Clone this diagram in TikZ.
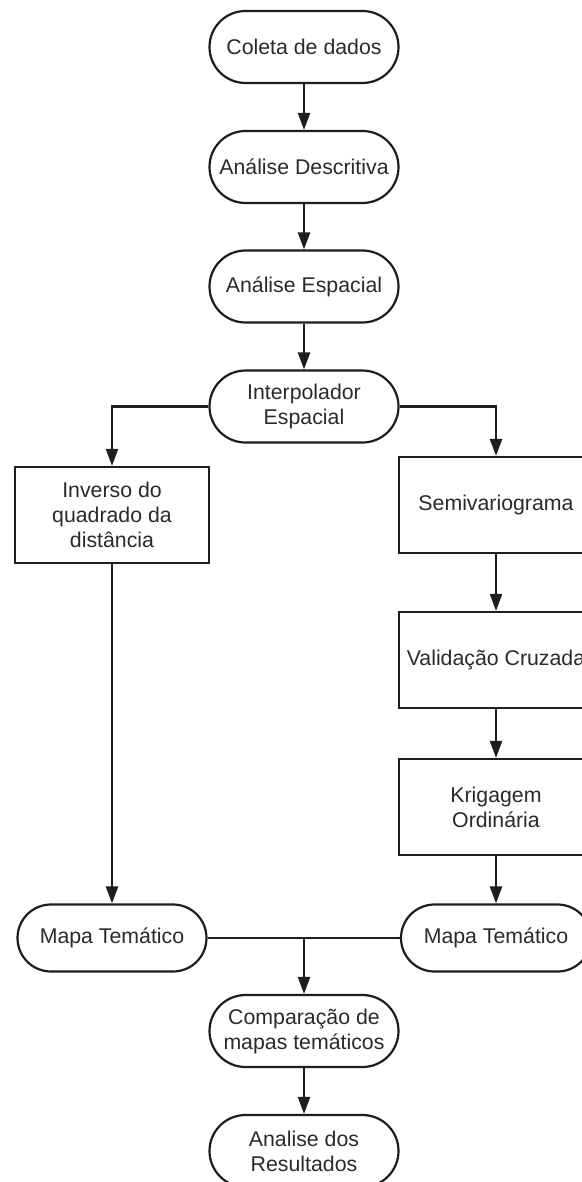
\documentclass[tikz,border=0pt]{standalone}
\usepackage{fontspec}
\setmainfont{Liberation Sans}
\usetikzlibrary{shapes.misc,arrows.meta,calc}
\definecolor{ink}{HTML}{1E1E1E}
\definecolor{txt}{HTML}{2A2A2A}
\tikzset{
  pill/.style={rounded rectangle, draw=ink, line width=2.2pt, fill=white, text=txt,
    minimum width=193pt, minimum height=72pt, inner sep=2pt, align=center,
    font=\fontsize{21.3pt}{25pt}\selectfont},
  procbox/.style={rectangle, draw=ink, line width=2.2pt, fill=white, text=txt,
    minimum width=194pt, minimum height=96pt, inner sep=2pt, align=center,
    font=\fontsize{21.3pt}{25pt}\selectfont},
  conn/.style={draw=ink, line width=2.2pt},
  arr/.style={conn, -{Triangle[length=17pt,width=12pt]}}
}
\begin{document}
\begin{tikzpicture}[x=1pt,y=1pt]
\useasboundingbox (0,0) rectangle (581,-1182);
\fill[white] (0,0) rectangle (581,-1182);
\node[pill] (coleta) at (304,-47) {Coleta de dados};
\node[pill] (desc) at (304,-167) {Análise Descritiva};
\node[pill] (esp) at (304,-286.5) {Análise Espacial};
\node[pill] (interp) at (304,-406.5) {Interpolador\\Espacial};
\node[procbox] (inverso) at (112,-515) {Inverso do\\quadrado da\\distância};
\node[procbox] (semi) at (496,-505) {Semivariograma};
\node[procbox] (valid) at (496,-660) {Validação Cruzada};
\node[procbox] (krig) at (496,-807) {Krigagem\\Ordinária};
\node[pill, minimum height=67pt] (mapaL) at (112,-938) {Mapa Temático};
\node[pill, minimum height=67pt, minimum width=194pt] (mapaR) at (496,-938) {Mapa Temático};
\node[pill] (comp) at (304,-1031) {Comparação de\\mapas temáticos};
\node[pill] (anal) at (304,-1151) {Analise dos\\Resultados};
\coordinate (j) at (mapaL.east -| comp.north);
\draw[arr] (coleta.south) -- (desc.north);
\draw[arr] (desc.south) -- (esp.north);
\draw[arr] (esp.south) -- (interp.north);
\draw[arr] (interp.west) -| (inverso.north);
\draw[arr] (interp.east) -| (semi.north);
\draw[arr] (semi.south) -- (valid.north);
\draw[arr] (valid.south) -- (krig.north);
\draw[arr] (krig.south) -- (mapaR.north);
\draw[arr] (inverso.south) -- (mapaL.north);
\draw[conn] (mapaL.east) -- (mapaR.west);
\draw[arr] (j) -- (comp.north);
\draw[arr] (comp.south) -- (anal.north);
\end{tikzpicture}
\end{document}
